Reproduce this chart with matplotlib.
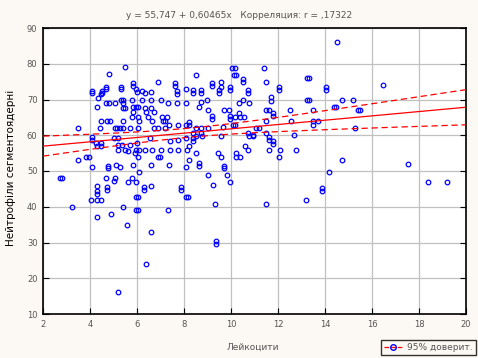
import matplotlib
matplotlib.use("Agg")
import matplotlib.pyplot as plt
import numpy as np
from matplotlib.lines import Line2D

# Regression from the chart title
INTERCEPT = 55.747
SLOPE = 0.60465

# Points (Лейкоцити, Нейтрофіли сегментоядерні)
pts_left = [(2.72, 48), (2.82, 48), (3.22, 40), (3.5, 62), (3.49, 53.2),
            (3.84, 53.9), (3.94, 53.9)]

pts_top_left = [
    (5.5, 79), (4.8, 77), (6.9, 75), (5.85, 74.6), (5.85, 73.8), (7.6, 74.5),
    (7.6, 73.8), (4.1, 72.5), (4.1, 71.7), (4.5, 72.5), (4.5, 71.7), (4.7, 73.5),
    (4.7, 72.8), (5.3, 73.5), (5.3, 72.8), (5.95, 73), (6.0, 72.2), (6.23, 72.5),
    (6.33, 71.9), (6.6, 72), (7.7, 72.4), (7.7, 71.6), (8.1, 73), (4.35, 70.5),
    (4.45, 71.4), (5.3, 70), (5.42, 70), (5.8, 70), (6.2, 70), (6.6, 70), (7.0, 70),
    (4.67, 69), (4.8, 69), (5.05, 69), (5.42, 69), (5.83, 68), (5.95, 68),
    (6.06, 68), (7.3, 69), (7.7, 69), (8.1, 69), (4.3, 68), (5.4, 67.7),
    (5.5, 67.7), (6.33, 67.7), (6.6, 67.7), (5.83, 66.6), (6.38, 66.6),
    (6.72, 66.6), (5.8, 65.2), (6.04, 65.2), (6.47, 65.2), (7.06, 65.2),
    (7.29, 65.2), (4.48, 64), (4.74, 64), (4.87, 64), (5.42, 64), (6.08, 64),
    (6.64, 64), (7.09, 64), (7.2, 64), (7.35, 63), (7.74, 63), (8.1, 63),
    (4.41, 62), (5.05, 62), (5.15, 62), (5.26, 62), (5.4, 62), (5.69, 62),
    (6.04, 62), (6.71, 62), (6.89, 62), (7.18, 62),
]

pts_mid_left = [
    (4.1, 59.5), (4.1, 58.7), (5.02, 59.2), (5.19, 59.2), (6.54, 59.2),
    (7.39, 58.3), (7.75, 58.8), (8.1, 59.2), (4.27, 57.8), (4.48, 57.8),
    (4.31, 56.9), (4.48, 56.9), (5.2, 57.4), (5.37, 57.4), (5.69, 57.4),
    (6.0, 57.8), (6.1, 56), (5.19, 56), (5.47, 56), (5.62, 55.5), (5.97, 56),
    (6.33, 56), (6.64, 56), (7.04, 56), (7.39, 56), (7.75, 56), (8.13, 56),
    (5.9, 55), (6.04, 53.9), (6.89, 53.9), (6.99, 53.9), (7.35, 51.8),
    (4.1, 51.1), (4.77, 51.5), (4.77, 50.7), (5.12, 51.8), (5.26, 51.1),
    (5.83, 51.8), (6.08, 49.6), (6.61, 51.8), (8.1, 51.1), (4.7, 48), (5.08, 48),
    (5.02, 47.1), (5.79, 48), (5.97, 46.8), (5.62, 46.8), (4.31, 45.9),
    (4.31, 44.4), (4.31, 43.6), (4.74, 45.4), (4.74, 44.6), (6.3, 45.4),
    (6.3, 44.6), (6.61, 45.9), (7.89, 45.4), (7.89, 44.6), (4.03, 41.8),
    (4.31, 41.8), (4.48, 41.8), (5.96, 42.7), (6.06, 42.7), (8.1, 42.7),
    (5.4, 39.9), (5.96, 39), (6.06, 39), (7.32, 39.2), (4.88, 38.1),
]

pts_mid_right = [
    (8.4, 59.3), (8.4, 58.5), (8.51, 59.9), (8.77, 59.9), (9.58, 59.9),
    (10.78, 59.9), (10.92, 59.9), (11.63, 59.4), (11.63, 58.6), (11.8, 58.4),
    (11.8, 57.6), (8.23, 56.9), (10.61, 56.9), (10.71, 55.8), (11.63, 55.8),
    (12.1, 55.8), (12.77, 55.8), (8.51, 55), (9.43, 55), (9.57, 53.9),
    (10.21, 54.9), (10.21, 53.9), (10.4, 53.9), (12.03, 53.9), (8.23, 53),
    (8.62, 52.2), (8.62, 51.4), (9.72, 51.5), (9.72, 50.7), (9.01, 48.8),
    (9.82, 48.8), (9.97, 46.8), (9.22, 46), (8.16, 42.7), (9.33, 40.9),
    (11.49, 40.9),
]

pts_top_right = [
    (10.05, 78.7), (10.15, 78.7), (11.42, 78.7), (8.52, 76.8), (10.13, 76.8),
    (10.23, 76.8), (10.52, 75.7), (10.52, 74.8), (11.49, 74.8), (9.19, 74.6),
    (9.19, 73.8), (9.59, 74.8), (9.59, 73.6), (8.4, 72.6), (8.4, 71.8),
    (8.72, 72.6), (8.72, 71.8), (9.5, 72.6), (9.5, 71.8), (9.97, 73.5),
    (9.97, 72.7), (10.71, 72.6), (10.71, 71.8), (12.03, 73.5), (12.03, 72.7),
    (8.72, 69.4), (8.62, 67.8), (8.98, 69.9), (10.52, 69.9), (11.7, 70.8),
    (11.7, 69.7), (10.33, 68.9), (10.78, 69), (9.01, 67.1), (9.72, 67.1),
    (9.93, 67.1), (10.35, 66.2), (10.4, 65.2), (11.63, 67.1), (11.5, 67.1),
    (11.8, 66.2), (11.8, 65.4), (12.51, 67.1), (9.19, 65.4), (9.19, 64.6),
    (9.97, 65.4), (9.97, 64.6), (10.18, 65), (10.54, 65), (8.2, 63.8),
    (8.2, 62.9), (11.49, 64), (12.55, 64), (8.51, 62), (8.72, 62), (9.01, 62),
    (9.64, 62.4), (10.09, 62.9), (10.19, 62.9), (11.08, 62), (11.18, 62),
    (8.37, 60.5), (8.72, 60.5), (10.71, 60.5), (10.92, 60.1), (11.49, 60.5),
    (12.69, 60),
]

pts_far_right = [
    (14.52, 86), (16.48, 74), (13.24, 76), (13.34, 76), (14.03, 73.5),
    (14.03, 72.7), (13.24, 70), (13.34, 70), (14.71, 70), (15.21, 70),
    (13.5, 67), (14.38, 68), (14.48, 68), (15.41, 67), (15.51, 67), (13.5, 64),
    (13.72, 64), (13.5, 63), (15.28, 62), (14.71, 53), (17.52, 52),
    (13.21, 41.8), (13.89, 45.3), (13.89, 44.5), (14.18, 49.6), (18.4, 46.8),
    (19.21, 46.8),
]

pts_low = [(4.31, 37), (5.59, 34.8), (6.61, 32.9), (9.35, 30.5), (9.35, 29.7),
           (6.4, 23.9), (5.21, 16.1)]

all_pts = np.array(pts_left + pts_top_left + pts_mid_left + pts_mid_right
                   + pts_top_right + pts_far_right + pts_low)
leuko = all_pts[:, 0]
neutro = all_pts[:, 1]

x_ticks = [2, 4, 6, 8, 10, 12, 14, 16, 18, 20]
y_ticks = [10, 20, 30, 40, 50, 60, 70, 80, 90]

BG = "#fcf8f4"
GRAY = "#555555"

# regression line and 95% band
xs = np.linspace(2, 20, 200)
fit = INTERCEPT + SLOPE * xs
n = len(leuko)
resid = neutro - (INTERCEPT + SLOPE * leuko)
s = np.sqrt(np.sum(resid ** 2) / (n - 2))
sxx = np.sum((leuko - leuko.mean()) ** 2)
hw = 1.97 * s * np.sqrt(1 / n + (xs - leuko.mean()) ** 2 / sxx)

fig = plt.figure(figsize=(4.78, 3.58), dpi=100, facecolor=BG)
ax = fig.add_axes([43 / 478, 44 / 358, 423 / 478, 286 / 358])
ax.set_facecolor("white")

ax.plot(leuko, neutro, linestyle="none", marker="o", markersize=3.3,
        markerfacecolor="none", markeredgecolor="#0000ff", markeredgewidth=0.9,
        zorder=3)
ax.plot(xs, fit, color="#ff0000", linewidth=0.9, zorder=4)
ax.plot(xs, fit + hw, color="#ff0000", linewidth=0.9, linestyle=(0, (5, 3)), zorder=4)
ax.plot(xs, fit - hw, color="#ff0000", linewidth=0.9, linestyle=(0, (5, 3)), zorder=4)

ax.set_xlim(2, 20)
ax.set_ylim(10, 90)
ax.set_xticks(x_ticks)
ax.set_yticks(y_ticks)
ax.grid(True, color="#c0c0c0", linewidth=0.9)
ax.set_axisbelow(True)
ax.tick_params(direction="in", length=4, width=0.8, color="black",
               labelsize=6, labelcolor=GRAY, right=True, top=False, pad=4)
for sp in ax.spines.values():
    sp.set_color("black")
    sp.set_linewidth(1.2)

fig.text(0.5, 0.958, "y = 55,747 + 0,60465x   Корреляция: r = ,17322",
         ha="center", va="center", fontsize=6.5, color=GRAY)
fig.text(253 / 478, 1 - 347 / 358, "Лейкоцити", ha="center", va="center",
         fontsize=6.5, color=GRAY)
fig.text(11 / 478, 1 - 168 / 358, "Нейтрофіли сегментоядерні", rotation=90,
         ha="center", va="center", fontsize=7.5, color="black")

handle = Line2D([], [], color="#ff0000", linestyle="--", linewidth=0.9,
                marker="o", markersize=4, markerfacecolor="none",
                markeredgecolor="#0000ff")
leg = fig.legend([handle], ["95% доверит."], loc="lower right",
                 bbox_to_anchor=(476 / 478, 3 / 358), frameon=True,
                 fancybox=False, fontsize=6.5, handlelength=2.0,
                 borderpad=0.35, handletextpad=0.6, borderaxespad=0)
leg.get_frame().set_edgecolor("black")
leg.get_frame().set_linewidth(1.0)
leg.get_frame().set_facecolor(BG)
for t in leg.get_texts():
    t.set_color(GRAY)

fig.savefig("out.png", dpi=100, facecolor=BG)
